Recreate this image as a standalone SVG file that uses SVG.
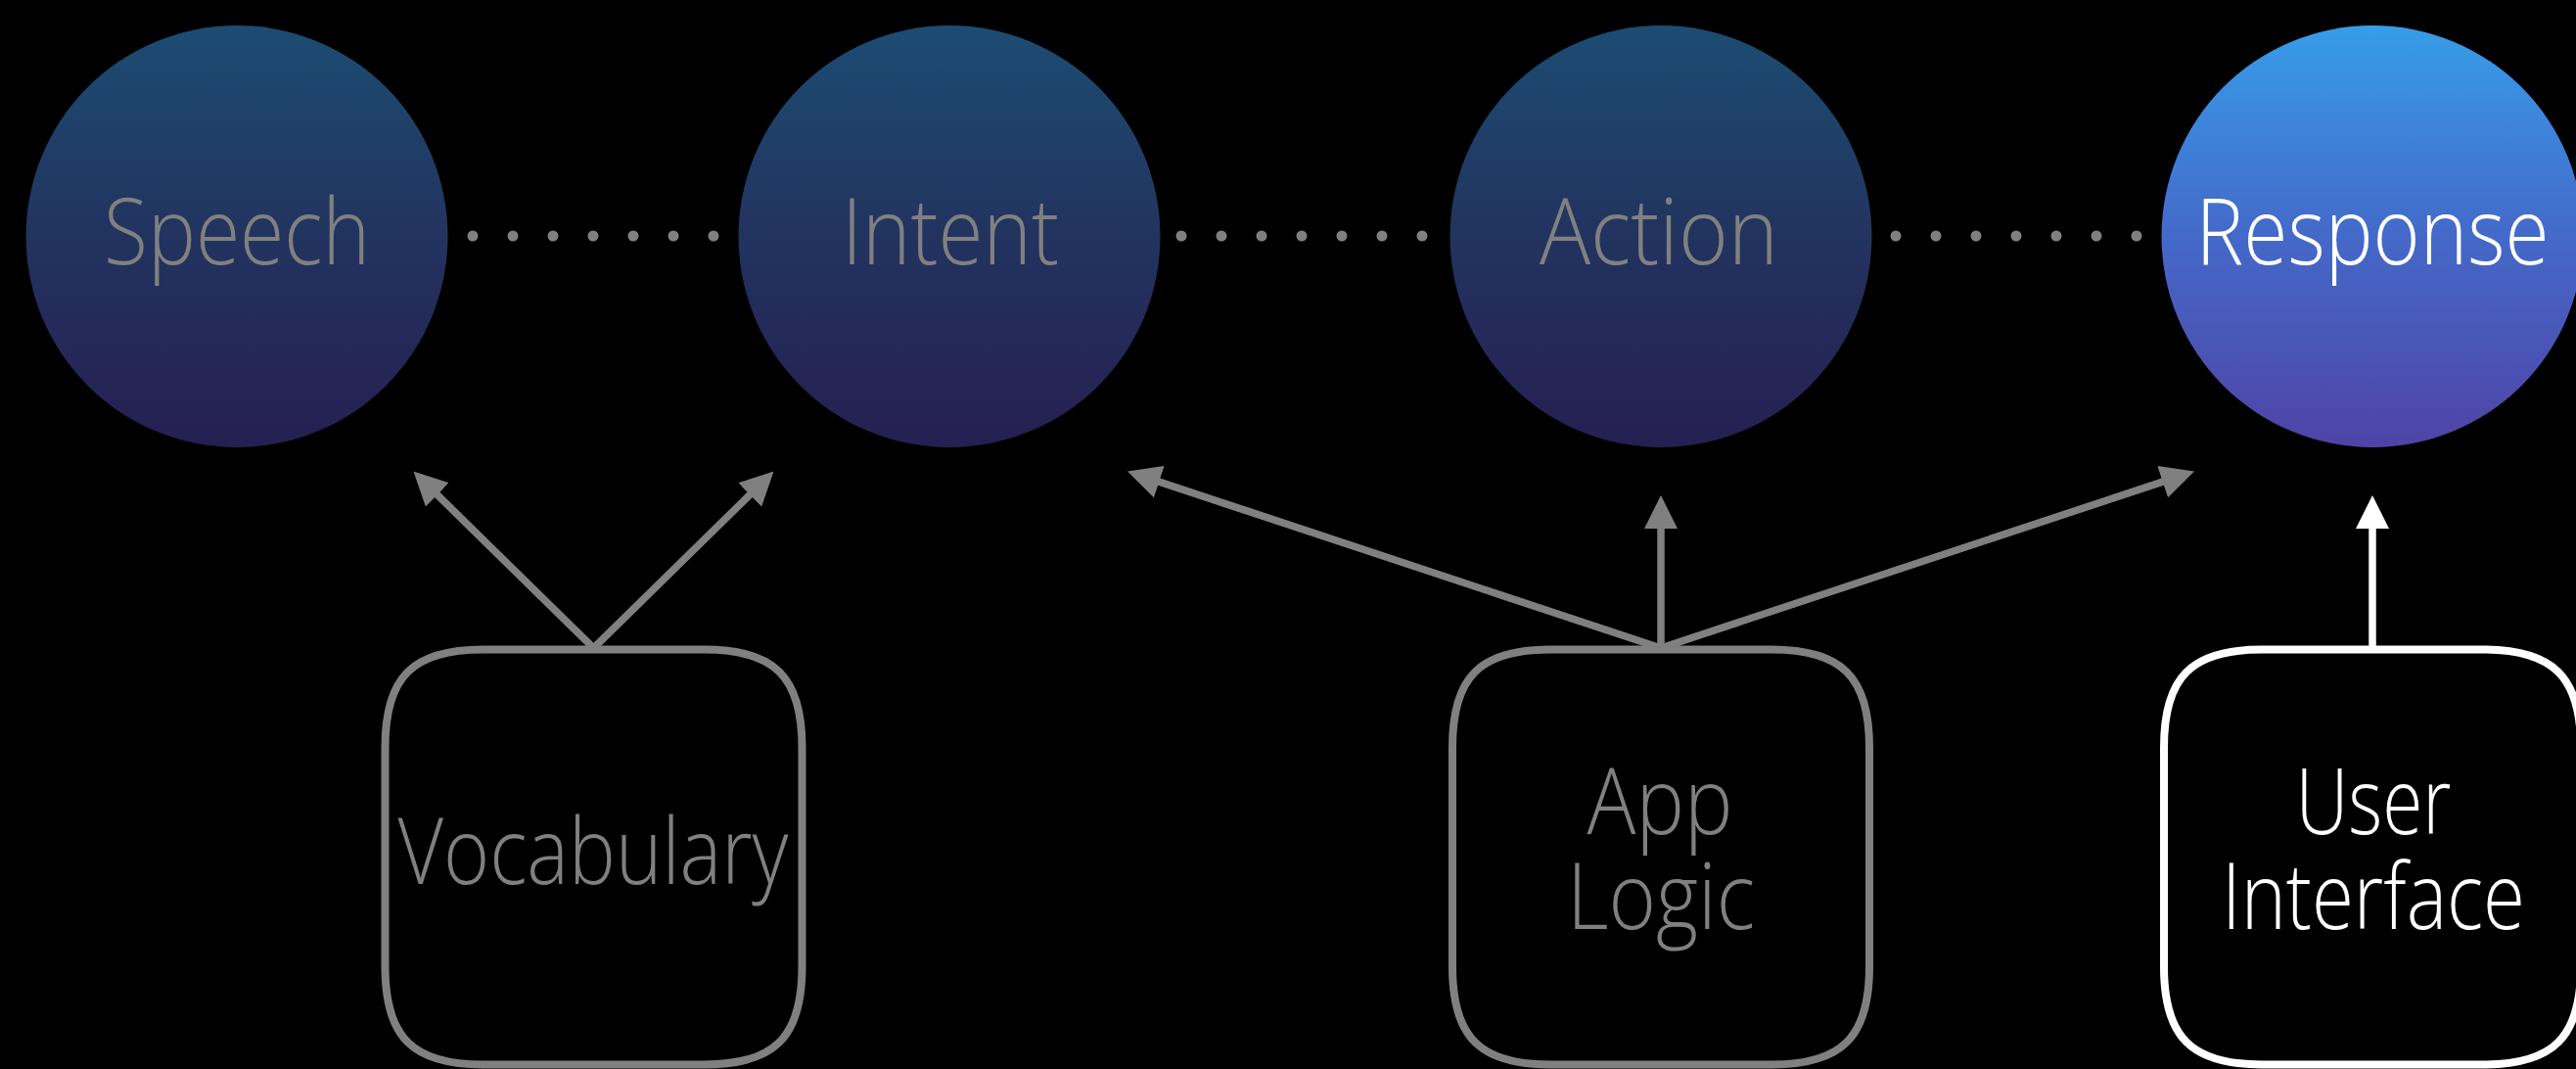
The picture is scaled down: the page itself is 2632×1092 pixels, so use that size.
<svg xmlns="http://www.w3.org/2000/svg" width="2632" height="1092" viewBox="0 0 2632 1092">
  <defs>
    <linearGradient id="gDark" x1="0" y1="0" x2="0" y2="1">
      <stop offset="0" stop-color="#1c4c72"/>
      <stop offset="0.5" stop-color="#22335f"/>
      <stop offset="1" stop-color="#261f52"/>
    </linearGradient>
    <linearGradient id="gBright" x1="0" y1="0" x2="0" y2="1">
      <stop offset="0" stop-color="#379de9"/>
      <stop offset="0.5" stop-color="#4469c9"/>
      <stop offset="1" stop-color="#4f43a6"/>
    </linearGradient>
    <marker id="ahGray" markerUnits="userSpaceOnUse" markerWidth="34" markerHeight="34" viewBox="0 0 34 34" refX="4" refY="17" orient="auto">
      <path d="M0,0 L34,17 L0,34 Z" fill="#808080"/>
    </marker>
    <marker id="ahWhite" markerUnits="userSpaceOnUse" markerWidth="34" markerHeight="34" viewBox="0 0 34 34" refX="4" refY="17" orient="auto">
      <path d="M0,0 L34,17 L0,34 Z" fill="#ffffff"/>
    </marker>
  </defs>
  <style>
    .lbl { font-family: "Open Sans", "Liberation Sans", sans-serif; font-weight: 300; font-size: 94px; text-anchor: middle; }
    .gray { fill: #808080; }
    .white { fill: #ffffff; }
    .box { fill: none; stroke-width: 8; }
    .boxGray { stroke: #808080; }
    .boxWhite { stroke: #ffffff; }
    .dot { fill: #808080; }
    .conn { stroke-width: 7.5; fill: none; }
    .connGray { stroke: #808080; marker-end: url(#ahGray); }
    .connWhite { stroke: #ffffff; marker-end: url(#ahWhite); }
  </style>
  <rect x="0" y="0" width="2632" height="1092" fill="#000000"/>

  <g id="dots">
    <circle class="dot" cx="483" cy="241" r="5.5"/>
    <circle class="dot" cx="524" cy="241" r="5.5"/>
    <circle class="dot" cx="565" cy="241" r="5.5"/>
    <circle class="dot" cx="606" cy="241" r="5.5"/>
    <circle class="dot" cx="647" cy="241" r="5.5"/>
    <circle class="dot" cx="688" cy="241" r="5.5"/>
    <circle class="dot" cx="729" cy="241" r="5.5"/>
    <circle class="dot" cx="1207" cy="241" r="5.5"/>
    <circle class="dot" cx="1248" cy="241" r="5.5"/>
    <circle class="dot" cx="1289" cy="241" r="5.5"/>
    <circle class="dot" cx="1330" cy="241" r="5.5"/>
    <circle class="dot" cx="1371" cy="241" r="5.5"/>
    <circle class="dot" cx="1412" cy="241" r="5.5"/>
    <circle class="dot" cx="1453" cy="241" r="5.5"/>
    <circle class="dot" cx="1937" cy="241" r="5.5"/>
    <circle class="dot" cx="1978" cy="241" r="5.5"/>
    <circle class="dot" cx="2019" cy="241" r="5.5"/>
    <circle class="dot" cx="2060" cy="241" r="5.5"/>
    <circle class="dot" cx="2101" cy="241" r="5.5"/>
    <circle class="dot" cx="2142" cy="241" r="5.5"/>
    <circle class="dot" cx="2183" cy="241" r="5.5"/>
  </g>

  <g id="speech">
    <circle cx="242" cy="241.5" r="215.5" fill="url(#gDark)"/>
    <text class="lbl gray" x="242" y="270" textLength="272" lengthAdjust="spacingAndGlyphs">Speech</text>
  </g>
  <g id="intent">
    <circle cx="970" cy="241.5" r="215.5" fill="url(#gDark)"/>
    <text class="lbl gray" x="971" y="270" textLength="222" lengthAdjust="spacingAndGlyphs">Intent</text>
  </g>
  <g id="action">
    <circle cx="1697" cy="241.5" r="215.5" fill="url(#gDark)"/>
    <text class="lbl gray" x="1695" y="270" textLength="244" lengthAdjust="spacingAndGlyphs">Action</text>
  </g>
  <g id="response">
    <circle cx="2424" cy="241.5" r="215.5" fill="url(#gBright)"/>
    <text class="lbl white" x="2424" y="270" textLength="361" lengthAdjust="spacingAndGlyphs">Response</text>
  </g>

  <g id="vocabulary">
    <path class="box boxGray" d="M493.5,663.5 h226 c72,0 100,28 100,100 v224 c0,72 -28,100 -100,100 h-226 c-72,0 -100,-28 -100,-100 v-224 c0,-72 28,-100 100,-100 z"/>
    <text class="lbl gray" x="606" y="903" textLength="399" lengthAdjust="spacingAndGlyphs">Vocabulary</text>
  </g>
  <g id="app-logic">
    <path class="box boxGray" d="M1584,663.5 h226 c72,0 100,28 100,100 v224 c0,72 -28,100 -100,100 h-226 c-72,0 -100,-28 -100,-100 v-224 c0,-72 28,-100 100,-100 z"/>
    <text class="lbl gray" x="1696" y="852" textLength="149" lengthAdjust="spacingAndGlyphs">App</text>
    <text class="lbl gray" x="1697" y="949" textLength="192" lengthAdjust="spacingAndGlyphs">Logic</text>
  </g>
  <g id="user-interface">
    <path class="box boxWhite" d="M2311,663.5 h226 c72,0 100,28 100,100 v224 c0,72 -28,100 -100,100 h-226 c-72,0 -100,-28 -100,-100 v-224 c0,-72 28,-100 100,-100 z"/>
    <text class="lbl white" x="2425" y="852" textLength="159" lengthAdjust="spacingAndGlyphs">User</text>
    <text class="lbl white" x="2425" y="949" textLength="310" lengthAdjust="spacingAndGlyphs">Interface</text>
  </g>

  <g id="connectors">
    <line class="conn connGray" x1="606.5" y1="662" x2="443.9" y2="502.6"/>
    <line class="conn connGray" x1="606.5" y1="662" x2="769.1" y2="502.6"/>
    <line class="conn connGray" x1="1697" y1="662" x2="1180.5" y2="490.9"/>
    <line class="conn connGray" x1="1697" y1="662" x2="1697" y2="536"/>
    <line class="conn connGray" x1="1697" y1="662" x2="2213.5" y2="490.9"/>
    <line class="conn connWhite" x1="2424" y1="662" x2="2424" y2="536"/>
  </g>
</svg>
